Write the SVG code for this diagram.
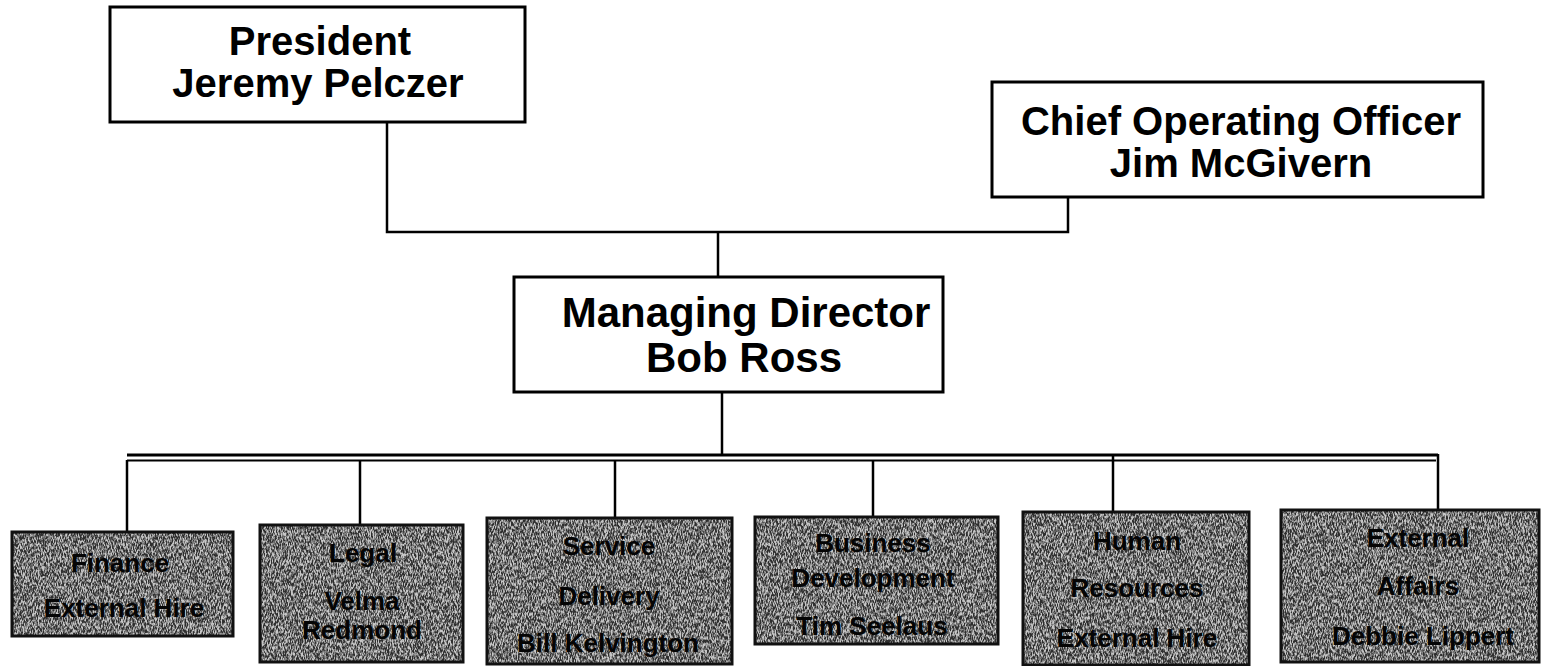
<svg xmlns="http://www.w3.org/2000/svg" width="1541" height="666" viewBox="0 0 1541 666">
  <style>
    .box { fill: #ffffff; stroke: #000000; stroke-width: 3; }
    .dept-frame { fill: none; stroke: #111111; stroke-width: 3; }
    .dept-fill { fill: #747474; }
    .title { font-family: "Liberation Sans", Arial, sans-serif; font-weight: bold; font-size: 40px; fill: #000000; text-anchor: middle; }
    .title-md { font-size: 42px; }
    .dept { font-family: "Liberation Sans", Arial, sans-serif; font-weight: bold; font-size: 26px; fill: #050505; text-anchor: middle; }
    .wire { fill: none; stroke: #000000; stroke-width: 2.5; }
  </style>
  <defs>
    <!-- speckled grey texture used for the department boxes -->
    <filter id="grain" x="0" y="0" width="100%" height="100%" color-interpolation-filters="sRGB">
      <feTurbulence type="fractalNoise" baseFrequency="1.4 0.3" numOctaves="2" seed="7" result="noise"/>
      <feColorMatrix in="noise" type="matrix" values="1 0 0 0 0  1 0 0 0 0  1 0 0 0 0  0 0 0 0 1" result="grey"/>
      <feComponentTransfer in="grey" result="contrast">
        <feFuncR type="linear" slope="3.4" intercept="-1.25"/>
        <feFuncG type="linear" slope="3.4" intercept="-1.25"/>
        <feFuncB type="linear" slope="3.4" intercept="-1.25"/>
      </feComponentTransfer>
      <feComposite in="contrast" in2="SourceGraphic" operator="in" result="clipped"/>
      <feComponentTransfer in="clipped" result="faded">
        <feFuncA type="linear" slope="0.6"/>
      </feComponentTransfer>
      <feMerge>
        <feMergeNode in="SourceGraphic"/>
        <feMergeNode in="faded"/>
      </feMerge>
    </filter>
  </defs>

  <rect width="1541" height="666" fill="#ffffff"/>

  <!-- connectors -->
  <g id="connectors">
    <polyline class="wire" points="387,122 387,232 1068,232 1068,197"/>
    <line class="wire" x1="718" y1="232" x2="718" y2="277"/>
    <line class="wire" x1="722" y1="392" x2="722" y2="455"/>
    <line x1="127" y1="455" x2="1438" y2="455" stroke="#000" stroke-width="3"/>
    <line x1="127" y1="460.5" x2="1436" y2="460.5" stroke="#000" stroke-width="2"/>
    <line class="wire" x1="127" y1="460" x2="127" y2="532"/>
    <line class="wire" x1="360" y1="460" x2="360" y2="525"/>
    <line class="wire" x1="615" y1="460" x2="615" y2="518"/>
    <line class="wire" x1="873" y1="460" x2="873" y2="517"/>
    <line class="wire" x1="1113" y1="455" x2="1113" y2="512"/>
    <line class="wire" x1="1438" y1="454" x2="1438" y2="510"/>
  </g>

  <g id="president">
    <rect class="box" x="110" y="7" width="415" height="115"/>
    <text class="title" x="320" y="55">President</text>
    <text class="title" x="318" y="97">Jeremy Pelczer</text>
  </g>

  <g id="coo">
    <rect class="box" x="992" y="82" width="491" height="115"/>
    <text class="title" x="1241" y="135">Chief Operating Officer</text>
    <text class="title" x="1241" y="177">Jim McGivern</text>
  </g>

  <g id="managing-director">
    <rect class="box" x="514" y="277" width="429" height="115"/>
    <text class="title title-md" x="746" y="327">Managing Director</text>
    <text class="title title-md" x="744" y="372">Bob Ross</text>
  </g>

  <g id="finance">
    <rect class="dept-fill" x="12" y="532" width="221" height="104" filter="url(#grain)"/>
    <rect class="dept-frame" x="12" y="532" width="221" height="104"/>
    <text class="dept" x="120" y="572">Finance</text>
    <text class="dept" x="124" y="617">External Hire</text>
  </g>

  <g id="legal">
    <rect class="dept-fill" x="260" y="525" width="203" height="137" filter="url(#grain)"/>
    <rect class="dept-frame" x="260" y="525" width="203" height="137"/>
    <text class="dept" x="363" y="562">Legal</text>
    <text class="dept" x="362" y="610">Velma</text>
    <text class="dept" x="362" y="639">Redmond</text>
  </g>

  <g id="service-delivery">
    <rect class="dept-fill" x="487" y="518" width="245" height="146" filter="url(#grain)"/>
    <rect class="dept-frame" x="487" y="518" width="245" height="146"/>
    <text class="dept" x="609" y="555">Service</text>
    <text class="dept" x="609" y="605">Delivery</text>
    <text class="dept" x="608" y="652">Bill Kelvington</text>
  </g>

  <g id="business-development">
    <rect class="dept-fill" x="755" y="517" width="243" height="127" filter="url(#grain)"/>
    <rect class="dept-frame" x="755" y="517" width="243" height="127"/>
    <text class="dept" x="873" y="552">Business</text>
    <text class="dept" x="873" y="587">Development</text>
    <text class="dept" x="872" y="635">Tim Seelaus</text>
  </g>

  <g id="human-resources">
    <rect class="dept-fill" x="1023" y="512" width="226" height="153" filter="url(#grain)"/>
    <rect class="dept-frame" x="1023" y="512" width="226" height="153"/>
    <text class="dept" x="1137" y="550">Human</text>
    <text class="dept" x="1137" y="597">Resources</text>
    <text class="dept" x="1137" y="647">External Hire</text>
  </g>

  <g id="external-affairs">
    <rect class="dept-fill" x="1281" y="510" width="258" height="152" filter="url(#grain)"/>
    <rect class="dept-frame" x="1281" y="510" width="258" height="152"/>
    <text class="dept" x="1418" y="547">External</text>
    <text class="dept" x="1418" y="595">Affairs</text>
    <text class="dept" x="1423" y="645">Debbie Lippert</text>
  </g>
</svg>
